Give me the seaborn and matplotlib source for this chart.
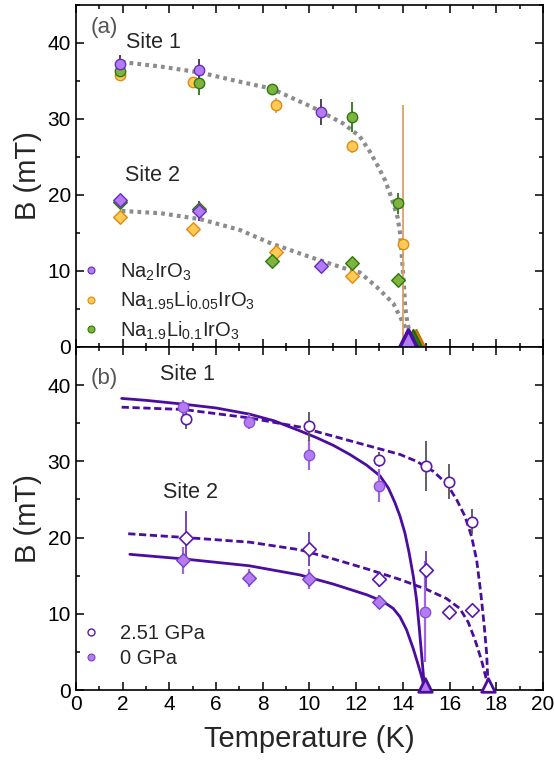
import numpy as np
import matplotlib
matplotlib.use("Agg")
import matplotlib.pyplot as plt
from matplotlib.lines import Line2D
from matplotlib.ticker import MultipleLocator
import seaborn as sns

sns.set_theme(style="ticks")
plt.rcParams['font.family'] = ['Liberation Sans', 'DejaVu Sans']
plt.rcParams['mathtext.default'] = 'regular'

# ---------------- panel (a) data ----------------
na2_T1 = [1.9, 5.27, 10.49]
na2_B1 = [37.2, 36.4, 30.9]
na2_E1 = [1.2, 1.5, 1.7]
na2_T2 = [1.9, 5.27, 10.49]
na2_B2 = [19.3, 17.9, 10.7]
na2_E2 = [0.5, 1.3, 0.6]

li05_T1 = [1.9, 5.02, 8.57, 11.83, 14.02]
li05_B1 = [35.8, 34.9, 31.8, 26.4, 13.6]
li05_E1_lo = [0.5, 0.5, 1.0, 0.9, 13.6]
li05_E1_hi = [0.5, 0.5, 1.0, 0.9, 18.2]
li05_T2 = [1.9, 5.02, 8.57, 11.83]
li05_B2 = [17.1, 15.5, 12.5, 9.4]
li05_E2 = [0.8, 0.8, 0.6, 0.9]

li10_T1 = [1.9, 5.27, 8.38, 11.83, 13.78]
li10_B1 = [36.3, 34.7, 34.0, 30.3, 18.9]
li10_E1 = [0.8, 1.6, 0.5, 2.0, 1.4]
li10_T2 = [1.9, 5.27, 8.38, 11.83, 13.78]
li10_B2 = [19.1, 18.2, 11.3, 11.0, 8.8]
li10_E2 = [0.5, 0.8, 0.7, 0.9, 0.8]

tc_a_T = [14.55, 14.45, 14.23]   # Li0.05, Li0.1, Na2IrO3

fitA1_T = [1.96, 3.63, 5.35, 7.02, 8.38, 10.16, 11.45, 12.16, 12.59, 12.95, 13.23,
           13.45, 13.62, 13.78, 13.88, 13.95, 13.99, 14.05, 14.10, 14.19, 14.30, 14.38]
fitA1_B = [37.5, 36.9, 36.1, 34.9, 34.0, 31.5, 29.4, 27.7, 25.7, 23.7, 22.0,
           20.2, 18.6, 17.0, 15.0, 12.3, 10.6, 7.9, 5.3, 3.3, 1.8, 0.5]
fitA2_T = [1.96, 3.63, 5.35, 7.02, 8.38, 10.16, 11.45, 12.16, 12.88, 13.59, 13.95, 14.23, 14.39]
fitA2_B = [17.9, 17.6, 16.8, 15.4, 13.6, 11.7, 10.4, 9.8, 7.9, 5.75, 3.55, 1.8, 0.5]

# ---------------- panel (b) data ----------------
p0_T1 = [4.6, 7.42, 9.97, 12.98, 14.96]
p0_B1 = [37.1, 35.2, 30.8, 26.8, 10.3]
p0_E1 = [1.0, 1.0, 2.0, 2.2, 6.6]
p0_T2 = [4.6, 7.42, 9.97, 12.98]
p0_B2 = [17.0, 14.7, 14.6, 11.5]
p0_E2 = [1.8, 1.2, 1.3, 0.9]

p25_T1 = [4.71, 9.97, 12.98, 14.99, 15.97, 16.97]
p25_B1 = [35.6, 34.6, 30.2, 29.4, 27.3, 22.1]
p25_E1 = [1.4, 1.9, 1.0, 3.3, 2.3, 1.6]
p25_T2 = [4.71, 9.97, 12.98, 14.99, 15.97, 16.97]
p25_B2 = [20.0, 18.5, 14.5, 15.8, 10.2, 10.5]
p25_E2 = [3.5, 2.2, 1.0, 2.4, 0.8, 0.8]

tc_p0 = 14.96
tc_p25 = 17.66

solid1_T = [1.96, 3.0, 4.6, 6.0, 7.42, 8.5, 9.59, 10.31, 11.02, 11.73, 12.45, 13.02, 13.38,
            13.66, 13.88, 14.09, 14.27, 14.45, 14.59, 14.70, 14.80, 14.90, 14.94]
solid1_B = [38.25, 38.0, 37.5, 37.0, 36.2, 35.3, 34.0, 33.1, 32.1, 30.9, 29.5, 28.1, 26.5,
            24.6, 22.8, 20.6, 18.0, 14.9, 11.8, 8.3, 4.8, 1.3, 0.0]
solid2_T = [2.31, 4.6, 7.42, 9.59, 11.02, 12.45, 13.16, 13.59, 13.88, 14.16, 14.45, 14.66,
            14.84, 14.93]
solid2_B = [17.8, 17.2, 16.3, 15.1, 13.9, 12.5, 11.6, 10.7, 9.6, 7.9, 5.4, 3.3, 1.4, 0.0]
dash1_T = [1.96, 4.6, 7.42, 9.59, 11.02, 12.45, 13.88, 14.59, 15.30, 15.87, 16.30, 16.66,
           16.94, 17.16, 17.34, 17.49, 17.59, 17.66]
dash1_B = [37.1, 36.8, 35.7, 34.5, 33.3, 32.1, 30.9, 30.0, 28.7, 27.1, 25.0, 22.8,
           20.2, 17.1, 12.7, 8.3, 4.8, 0.0]
dash2_T = [2.24, 4.71, 7.42, 9.59, 11.02, 12.45, 13.88, 15.02, 15.87, 16.44, 16.80, 17.09,
           17.37, 17.55, 17.66]
dash2_B = [20.5, 20.0, 19.4, 18.4, 17.2, 15.9, 14.5, 13.2, 12.0, 10.7, 8.9, 6.6,
           3.9, 1.75, 0.0]

# ---------------- styles ----------------
PUR_F, PUR_E = '#b47cf2', '#6a2bbf'
ORA_F, ORA_E = '#ffcb55', '#e08a10'
GRN_F, GRN_E = '#7fb23e', '#2b7a0b'
DARK = '#4b0ca0'
LPUR = '#9e68dc'
GRAY = '#8c8c8c'
MS = 56  # marker area (pt^2)

fig = plt.figure(figsize=(5.54, 7.69), dpi=100)
axA = fig.add_axes([0.137, 0.5488, 0.843, 0.4447])
axB = fig.add_axes([0.137, 0.1027, 0.843, 0.4461])


def pts(ax, T, B, marker, face, edge, lw=1.0, z=4, s=MS, clip=True):
    sns.scatterplot(x=T, y=B, marker=marker, s=s, color=face, edgecolor=edge,
                    linewidth=lw, ax=ax, zorder=z, legend=False, clip_on=clip)


def ebar(ax, T, B, err, col, lw=1.3, z=3):
    ax.errorbar(T, B, yerr=err, fmt='none', ecolor=col, elinewidth=lw, capsize=0, zorder=z)


# ---- panel (a)
dot = (0, (0.9, 1.0))
sns.lineplot(x=fitA1_T, y=fitA1_B, sort=False, estimator=None, ax=axA, color=GRAY,
             lw=3.0, linestyle=dot, zorder=2)
sns.lineplot(x=fitA2_T, y=fitA2_B, sort=False, estimator=None, ax=axA, color=GRAY,
             lw=3.0, linestyle=dot, zorder=2)

ebar(axA, li05_T1, li05_B1, [li05_E1_lo, li05_E1_hi], '#dca068', lw=1.3)
ebar(axA, li05_T2, li05_B2, li05_E2, '#e29a3a')
ebar(axA, li10_T1, li10_B1, li10_E1, '#2b7a0b')
ebar(axA, li10_T2, li10_B2, li10_E2, '#2b7a0b')
ebar(axA, na2_T1, na2_B1, na2_E1, '#3a3a3a')
ebar(axA, na2_T2, na2_B2, na2_E2, PUR_E)

pts(axA, li05_T1, li05_B1, 'o', ORA_F, ORA_E)
pts(axA, li05_T2, li05_B2, 'D', ORA_F, ORA_E, s=48)
pts(axA, li10_T1, li10_B1, 'o', GRN_F, GRN_E)
pts(axA, li10_T2, li10_B2, 'D', GRN_F, GRN_E, s=48)
pts(axA, na2_T1, na2_B1, 'o', PUR_F, PUR_E, z=5)
pts(axA, na2_T2, na2_B2, 'D', PUR_F, PUR_E, z=5, s=48)

pts(axA, [tc_a_T[0]], [1.05], '^', '#e08a10', '#c87000', lw=1.5, z=6, s=190, clip=False)
pts(axA, [tc_a_T[1]], [1.05], '^', '#2b7a0b', '#1f6a05', lw=1.5, z=7, s=190, clip=False)
pts(axA, [tc_a_T[2]], [1.05], '^', PUR_F, DARK, lw=2.6, z=8, s=190, clip=False)

axA.text(0.62, 42.0, '(a)', fontsize=16, color='#555555', va='center')
axA.text(2.15, 40.1, 'Site 1', fontsize=15.5, va='center')
axA.text(2.1, 22.6, 'Site 2', fontsize=15.5, va='center')

hA = [Line2D([], [], ls='none', marker='o', ms=5, mfc=PUR_F, mec=PUR_E, mew=0.8),
      Line2D([], [], ls='none', marker='o', ms=5, mfc=ORA_F, mec=ORA_E, mew=0.8),
      Line2D([], [], ls='none', marker='o', ms=5, mfc=GRN_F, mec=GRN_E, mew=0.8)]
lA = [r'$\mathregular{Na_2IrO_3}$', r'$\mathregular{Na_{1.95}Li_{0.05}IrO_3}$',
      r'$\mathregular{Na_{1.9}Li_{0.1}IrO_3}$']
axA.legend(hA, lA, loc='lower left', bbox_to_anchor=(-0.015, -0.02), frameon=False,
           fontsize=14.5, handlelength=1.0, handletextpad=0.95, labelspacing=0.36,
           borderaxespad=0.2)

# ---- panel (b)
dsh = (0, (2.6, 1.3))
sns.lineplot(x=solid1_T, y=solid1_B, sort=False, estimator=None, ax=axB, color=DARK, lw=2.0, zorder=2)
sns.lineplot(x=solid2_T, y=solid2_B, sort=False, estimator=None, ax=axB, color=DARK, lw=2.0, zorder=2)
sns.lineplot(x=dash1_T, y=dash1_B, sort=False, estimator=None, ax=axB, color=DARK, lw=2.0,
             linestyle=dsh, zorder=2)
sns.lineplot(x=dash2_T, y=dash2_B, sort=False, estimator=None, ax=axB, color=DARK, lw=2.0,
             linestyle=dsh, zorder=2)

ebar(axB, p0_T1, p0_B1, p0_E1, LPUR, lw=1.6)
ebar(axB, p0_T2, p0_B2, p0_E2, LPUR, lw=1.6)
ebar(axB, p25_T1, p25_B1, p25_E1, '#555555', lw=1.3)
ebar(axB, p25_T2, p25_B2, p25_E2, '#6a3ab8', lw=1.3)

pts(axB, p0_T1, p0_B1, 'o', PUR_F, '#8a4fd8', lw=1.0)
pts(axB, p0_T2, p0_B2, 'D', PUR_F, '#7a40c8', lw=1.0, s=48)
pts(axB, p25_T1, p25_B1, 'o', 'white', '#5a1ab0', lw=1.2)
pts(axB, p25_T2, p25_B2, 'D', 'white', '#5a1ab0', lw=1.2, s=48)

pts(axB, [tc_p0], [0.65], '^', PUR_F, DARK, lw=2.0, z=6, s=95, clip=False)
pts(axB, [tc_p25], [0.65], '^', 'white', DARK, lw=2.0, z=6, s=95, clip=False)

axB.text(0.62, 40.8, '(b)', fontsize=16, color='#555555', va='center')
axB.text(3.62, 41.4, 'Site 1', fontsize=15.5, va='center')
axB.text(3.75, 25.9, 'Site 2', fontsize=15.5, va='center')

hB = [Line2D([], [], ls='none', marker='o', ms=5, mfc='white', mec='#5a1ab0', mew=1.0),
      Line2D([], [], ls='none', marker='o', ms=5, mfc=PUR_F, mec='#7a40c8', mew=0.8)]
axB.legend(hB, ['2.51 GPa', '0 GPa'], loc='lower left', bbox_to_anchor=(-0.015, 0.03),
           frameon=False, fontsize=14.5, handlelength=1.0, handletextpad=0.95,
           labelspacing=0.3, borderaxespad=0.2)

# ---- axes formatting
for ax in (axA, axB):
    ax.set_xlim(0, 20)
    ax.set_ylim(0, 45)
    ax.xaxis.set_major_locator(MultipleLocator(2))
    ax.xaxis.set_minor_locator(MultipleLocator(1))
    ax.yaxis.set_major_locator(MultipleLocator(10))
    ax.yaxis.set_minor_locator(MultipleLocator(5))
    ax.tick_params(which='both', direction='in', top=True, right=True, colors='black',
                   labelsize=15, width=1.1)
    ax.tick_params(which='major', length=6)
    ax.tick_params(which='minor', length=3)
    for sp in ax.spines.values():
        sp.set_visible(True)
        sp.set_color('black')
        sp.set_linewidth(1.2)
        sp.set_zorder(1)
    ax.set_ylabel('B (mT)', fontsize=21, labelpad=4)
    ax.set_xlabel('')

axA.tick_params(labelbottom=False)
axB.set_xlabel('Temperature (K)', fontsize=21, labelpad=8)

fig.savefig('out.png', dpi=100)
